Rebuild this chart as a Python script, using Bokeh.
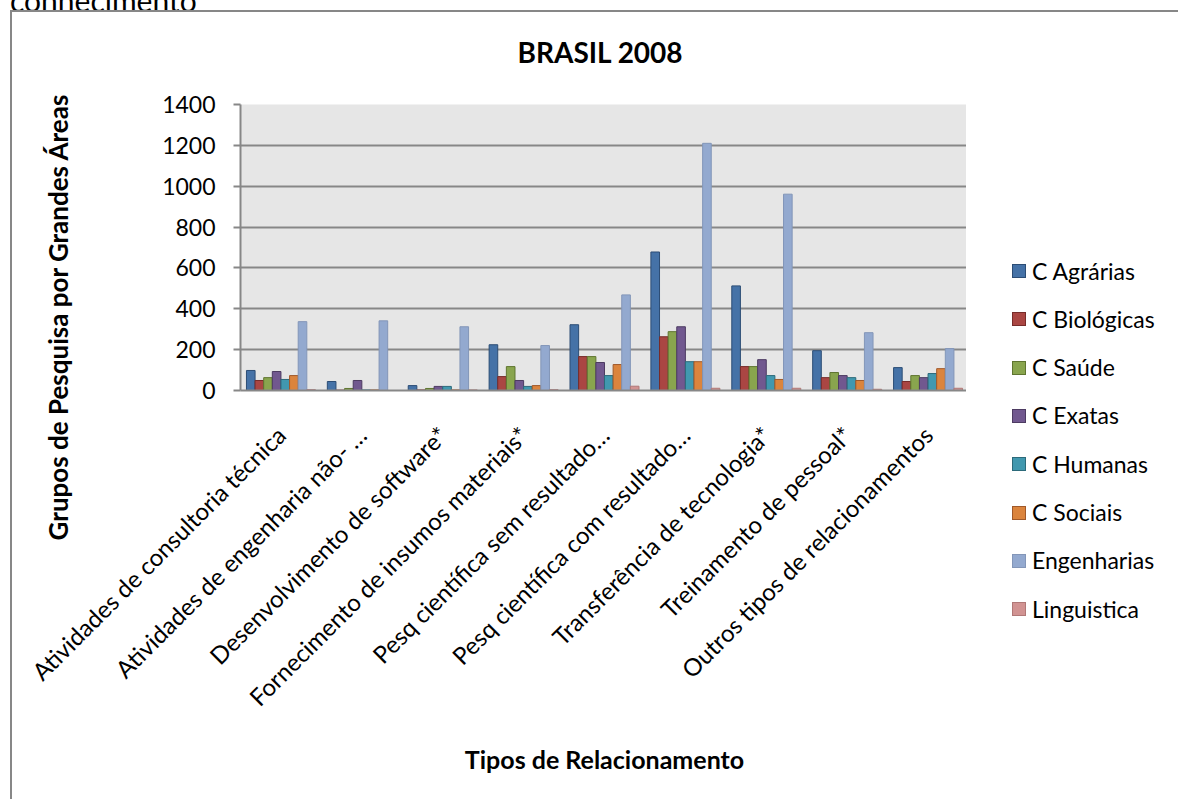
from math import pi

from bokeh.embed import file_html
from bokeh.resources import INLINE
from bokeh.plotting import figure
from bokeh.layouts import column, row
from bokeh.models import (ColumnDataSource, FactorRange, Range1d, Label, Title, Div,
                          FixedTicker)
from bokeh.transform import dodge

# Relationship types (x categories)
categories = [
    "Atividades de consultoria técnica",
    "Atividades de engenharia não- …",
    "Desenvolvimento de software*",
    "Fornecimento de insumos materiais*",
    "Pesq científica sem resultado…",
    "Pesq científica com resultado…",
    "Transferência de tecnologia*",
    "Treinamento de pessoal*",
    "Outros tipos de relacionamentos",
]

# Research groups per major area
agrarias    = [98, 44, 24, 224, 322, 678, 512, 195, 112]
biologicas  = [49, 2, 3, 68, 166, 263, 117, 63, 44]
saude       = [63, 10, 10, 117, 166, 288, 117, 88, 73]
exatas      = [93, 49, 20, 49, 137, 312, 151, 73, 63]
humanas     = [54, 3, 20, 20, 73, 141, 73, 63, 83]
sociais     = [73, 3, 3, 24, 127, 141, 54, 49, 107]
engenharias = [337, 341, 312, 220, 468, 1210, 961, 283, 205]
linguistica = [4, 0, 3, 4, 21, 11, 11, 6, 11]

series_names = ["C Agrárias", "C Biológicas", "C Saúde", "C Exatas",
                "C Humanas", "C Sociais", "Engenharias", "Linguistica"]
series_values = [agrarias, biologicas, saude, exatas, humanas, sociais,
                 engenharias, linguistica]

y_ticks = [0, 200, 400, 600, 800, 1000, 1200, 1400]

fills = ["#4572A7", "#AA4643", "#89A54E", "#71588F",
         "#4198AF", "#DB843D", "#93A9CF", "#D19392"]
edges = ["#2C4D75", "#772C2A", "#5F7530", "#4D3B62",
         "#2C6A7A", "#A0592A", "#8396B8", "#B07877"]

keys = ["s%d" % i for i in range(len(series_names))]
data = {"cat": categories}
for k, vals in zip(keys, series_values):
    data[k] = vals
source = ColumnDataSource(data)

FONT = "Lato"
GREY = "#878787"
BORDER = "2px solid #878787"

# ---- title strip (frame fills the whole canvas) --------------------------------
top = figure(width=1168, height=62, output_backend="svg", toolbar_location=None,
             x_axis_location=None, y_axis_location=None,
             x_range=Range1d(0, 1), y_range=Range1d(0, 1),
             min_border=0, min_border_left=0, min_border_right=0,
             min_border_top=0, min_border_bottom=0,
             outline_line_color=None, background_fill_color="white",
             border_fill_color="white", margin=(0, 0, 0, 10),
             styles={"border-top": BORDER, "border-left": BORDER})
top.grid.visible = False
top.add_layout(Label(x=588, y=23, x_units="screen", y_units="screen",
                     text="BRASIL 2008", text_font=FONT, text_font_size="28px",
                     text_font_style="bold", text_color="black",
                     text_align="center", text_baseline="middle"))

# ---- main chart -------------------------------------------------------------
p = figure(width=956, height=727,
           x_range=FactorRange(*categories), y_range=Range1d(0, 1400),
           output_backend="svg", toolbar_location=None,
           min_border_left=228, min_border_right=0,
           min_border_top=32, min_border_bottom=409,
           background_fill_color="#E6E6E6", border_fill_color="white",
           outline_line_color=None, margin=(0, 0, 0, 10),
           styles={"border-left": BORDER})

bar_w = 0.1066
for i, k in enumerate(keys):
    off = (i - 3.5) * bar_w
    p.vbar(x=dodge("cat", off, range=p.x_range), top=k, bottom=0,
           width=bar_w, source=source,
           fill_color=fills[i], line_color=edges[i], line_width=1)

p.yaxis.ticker = FixedTicker(ticks=y_ticks)
p.yaxis.axis_line_color = GREY
p.yaxis.axis_line_width = 2
p.yaxis.major_tick_line_color = GREY
p.yaxis.major_tick_line_width = 2
p.yaxis.major_tick_out = 7
p.yaxis.major_tick_in = 0
p.yaxis.minor_tick_line_color = None
p.yaxis.major_label_text_font = FONT
p.yaxis.major_label_text_font_size = "23px"
p.yaxis.major_label_text_color = "black"
p.yaxis.major_label_standoff = 18

p.xaxis.axis_line_color = GREY
p.xaxis.axis_line_width = 2
p.xaxis.major_tick_line_color = None
p.xaxis.minor_tick_line_color = None
p.xaxis.major_label_orientation = pi / 4
p.xaxis.major_label_text_font = FONT
p.xaxis.major_label_text_font_size = "24px"
p.xaxis.major_label_text_color = "black"
p.xaxis.major_label_standoff = 34
p.xaxis.axis_label = "Tipos de Relacionamento"
p.xaxis.axis_label_text_font = FONT
p.xaxis.axis_label_text_font_size = "25px"
p.xaxis.axis_label_text_font_style = "bold"
p.xaxis.axis_label_text_color = "black"
p.xaxis.axis_label_standoff = 20

p.xgrid.grid_line_color = None
p.ygrid.ticker = FixedTicker(ticks=y_ticks)
p.ygrid.grid_line_color = GREY
p.ygrid.grid_line_width = 2

# vertical axis title: starts below the frame and sits well left of the tick labels
p.add_layout(Title(text="Grupos de Pesquisa por Grandes Áreas\n\n", align="left",
                   offset=-150, standoff=44,
                   text_font=FONT, text_font_size="26px", text_font_style="bold",
                   text_color="black"), "left")

# ---- legend strip ---------------------------------------------------------------
items_html = []
for i, (name, fc, ec) in enumerate(zip(series_names, fills, edges)):
    t = 182 + 48.3 * i
    items_html.append(
        '<div style="position:absolute;left:41px;top:%.1fpx;height:24px;'
        'display:flex;align-items:center;white-space:nowrap;'
        'font-family:Lato;font-size:23px;color:black">'
        '<span style="display:inline-block;box-sizing:border-box;width:14px;height:14px;'
        'background:%s;border:1px solid %s;margin-right:6px"></span>%s</div>'
        % (t, fc, ec, name))
legend_div = Div(text='<div style="position:relative;width:212px;height:727px">'
                      + "".join(items_html) + "</div>",
                 width=212, height=727)

# clipped line of text above the chart box
top_text = Div(text='<div style="font-family:Lato;font-size:30px;line-height:30px;'
                    'margin-top:-19px;white-space:nowrap;color:black">conhecimento</div>',
               width=400, height=10, margin=(0, 0, 0, 10),
               styles={"overflow": "hidden"})

layout = column(top_text, top, row(p, legend_div, spacing=0), spacing=0)

open("out.html", "w").write(file_html(layout, INLINE))
